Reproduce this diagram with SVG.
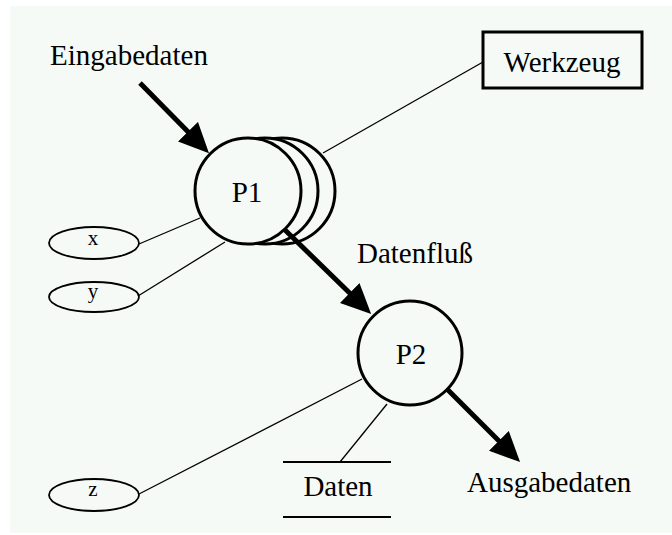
<svg xmlns="http://www.w3.org/2000/svg" width="672" height="535" viewBox="0 0 672 535">
  <style>
    text { font-family: "Liberation Serif", "Times New Roman", serif; fill: #000; }
    .lbl { font-size: 29px; }
    .var { font-size: 21px; }
    .proc { fill: #f5faf7; stroke: #000; stroke-width: 3; }
    .var-shape { fill: #f5faf7; stroke: #000; stroke-width: 1.8; }
    .assoc { stroke: #000; stroke-width: 1.3; fill: none; }
    .flow { stroke: #000; stroke-width: 5; fill: none; marker-end: url(#head); }
    .store { stroke: #000; stroke-width: 2; }
  </style>
  <defs>
    <marker id="head" viewBox="0 0 30 28" refX="20" refY="14" markerWidth="30" markerHeight="28" markerUnits="userSpaceOnUse" orient="auto">
      <path d="M0,0 L30,14 L0,28 Z" fill="#000"/>
    </marker>
  </defs>

  <rect x="10" y="6" width="662" height="527" fill="#f5faf7"/>

  <!-- process P1 with its stacked instances -->
  <g id="p1">
    <circle class="proc" cx="282" cy="191" r="53"/>
    <circle class="proc" cx="265" cy="191" r="53"/>
    <circle class="proc" cx="248" cy="191" r="53"/>
    <text class="lbl" x="247" y="202" text-anchor="middle">P1</text>
  </g>

  <!-- process P2 -->
  <g id="p2">
    <circle class="proc" cx="410" cy="353" r="52"/>
    <text class="lbl" x="411" y="364" text-anchor="middle">P2</text>
  </g>

  <!-- tool box -->
  <g id="werkzeug">
    <rect x="483" y="32" width="159" height="56" fill="#f5faf7" stroke="#000" stroke-width="3"/>
    <text class="lbl" x="562" y="72" text-anchor="middle">Werkzeug</text>
  </g>

  <!-- variables -->
  <g id="var-x">
    <ellipse class="var-shape" cx="94" cy="243" rx="45" ry="16"/>
    <text class="var" x="93" y="245" text-anchor="middle">x</text>
  </g>
  <g id="var-y">
    <ellipse class="var-shape" cx="94" cy="297" rx="45" ry="15"/>
    <text class="var" x="93" y="298" text-anchor="middle">y</text>
  </g>
  <g id="var-z">
    <ellipse class="var-shape" cx="94" cy="495" rx="45" ry="16"/>
    <text class="var" x="93" y="496" text-anchor="middle">z</text>
  </g>

  <!-- data store -->
  <g id="daten">
    <line class="store" x1="283" y1="462" x2="391" y2="462"/>
    <line class="store" x1="283" y1="517" x2="391" y2="517"/>
    <text class="lbl" x="338" y="496" text-anchor="middle">Daten</text>
  </g>

  <!-- external inputs / outputs -->
  <g id="eingabedaten">
    <text class="lbl" x="129" y="65" text-anchor="middle">Eingabedaten</text>
  </g>
  <g id="ausgabedaten">
    <text class="lbl" x="467" y="492">Ausgabedaten</text>
  </g>

  <!-- connectors -->
  <g id="connectors">
    <line class="assoc" x1="139" y1="244" x2="200" y2="218"/>
    <line class="assoc" x1="138" y1="296" x2="225" y2="242"/>
    <line class="assoc" x1="323" y1="153" x2="483" y2="62"/>
    <line class="assoc" x1="139" y1="494" x2="362" y2="379"/>
    <line class="assoc" x1="340" y1="462" x2="387" y2="404"/>
    <line class="flow" x1="140" y1="83" x2="202" y2="146"/>
    <line class="flow" x1="285" y1="230" x2="364" y2="307"/>
    <line class="flow" x1="447" y1="389" x2="513" y2="455"/>
  </g>
  <text class="lbl" x="357" y="263">Datenfluß</text>
</svg>
